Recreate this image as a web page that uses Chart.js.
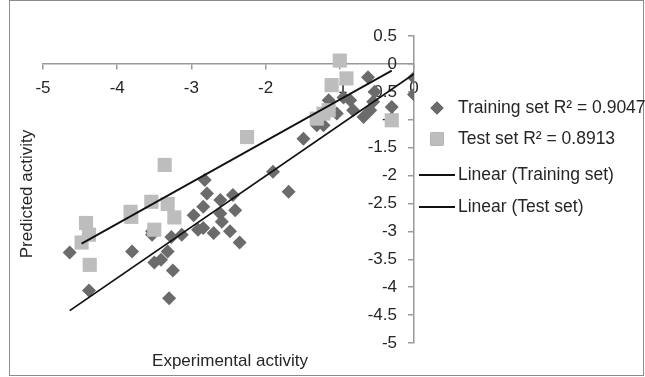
<!DOCTYPE html>
<html>
<head>
<meta charset="utf-8">
<script src="https://cdn.jsdelivr.net/npm/chart.js@4.4.1/dist/chart.umd.min.js"></script>
<style>
  html, body { margin: 0; padding: 0; background: #fff; }
  #wrap { width: 645px; height: 377px; position: relative; }
</style>
</head>
<body>
<div id="wrap"><canvas id="chart" width="645" height="377"></canvas></div>
<script>
// Training set: experimental vs predicted activity
const trainX = [-4.64, -4.38, -3.80, -3.30, -3.25, -3.50, -3.41, -3.32, -3.53, -3.27,
                -3.13, -2.97, -2.91, -2.84, -2.70, -2.59, -2.48, -2.35, -2.41, -2.61,
                -2.79, -2.61, -2.44, -1.69, -2.82, -1.90, -0.62, 0.00, 0.00, -0.30,
                -1.15, -0.86, -1.04, -0.82, -0.68, -0.59, -0.55, -1.31, -1.22, -1.49,
                -0.53, -0.95, -2.84, -3.53];
const trainY = [-3.38, -4.06, -3.36, -4.20, -3.70, -3.56, -3.51, -3.36, -3.06, -3.10,
                -3.06, -2.71, -2.97, -2.56, -3.03, -2.83, -3.00, -3.20, -2.62, -2.68,
                -2.32, -2.44, -2.35, -2.29, -2.08, -1.93, -0.24, -0.25, -0.55, -0.77,
                -0.65, -0.65, -0.89, -0.83, -0.95, -0.83, -0.68, -1.10, -1.10, -1.34,
                -0.50, -0.60, -2.94, -3.00];

// Test set
const testX = [-4.42, -4.38, -4.48, -4.37, -3.82, -3.81, -3.54, -3.32, -3.23, -3.50,
               -3.36, -2.25, -1.00, -0.91, -1.11, -1.15, -1.31, -0.30, -1.22];
const testY = [-2.85, -3.06, -3.20, -3.60, -2.65, -2.74, -2.47, -2.51, -2.75, -2.97,
               -1.81, -1.31, 0.06, -0.26, -0.38, -0.83, -0.98, -1.01, -0.89];

// Linear trend lines (end points)
const trainLineX = [-4.64, 0.00];
const trainLineY = [-4.42, -0.18];
const testLineX = [-4.48, -0.30];
const testLineY = [-3.22, -0.12];

const seriesLabels = ["Training set R\u00B2 = 0.9047", "Test set R\u00B2 = 0.8913",
                      "Linear (Training set)", "Linear (Test set)"];
const axisTitles = { x: "Experimental activity", y: "Predicted activity" };

const FONT = "'Liberation Sans', Arial, sans-serif";
const TEXT = "#262626";
const AXIS = "#9a9a9a";

function toPoints(xs, ys) {
  return xs.map((x, i) => ({ x: x, y: ys[i] }));
}

// legend, axis titles and outer frame
const decorations = {
  id: "decorations",
  afterDraw(chart) {
    const ctx = chart.ctx;
    ctx.save();
    ctx.strokeStyle = "#8c8c8c";
    ctx.lineWidth = 1;
    ctx.strokeRect(9.5, 0.5, 634, 375);

    ctx.fillStyle = TEXT;
    ctx.font = "17px " + FONT;
    ctx.textAlign = "center";
    ctx.textBaseline = "middle";
    ctx.fillText(axisTitles.x, 230, 361);
    ctx.translate(27, 194);
    ctx.rotate(-Math.PI / 2);
    ctx.fillText(axisTitles.y, 0, 0);
    ctx.restore();

    ctx.save();
    const rows = [108, 139, 175, 207];
    ctx.font = "17.5px " + FONT;
    ctx.textBaseline = "middle";
    ctx.textAlign = "left";
    chart.data.datasets.forEach((ds, i) => {
      const y = rows[i];
      if (ds.showLine) {
        ctx.strokeStyle = ds.borderColor;
        ctx.lineWidth = ds.borderWidth;
        ctx.beginPath();
        ctx.moveTo(419, y);
        ctx.lineTo(455, y);
        ctx.stroke();
      } else {
        Chart.helpers.drawPoint(ctx, {
          pointStyle: ds.pointStyle,
          radius: ds.pointStyle === "rect" ? 9 : 6.5,
          borderWidth: 0
        }, 437, y);
        ctx.fillStyle = ds.backgroundColor;
        ctx.fill();
      }
      ctx.fillStyle = TEXT;
      ctx.fillText(seriesLabels[i], 458, y);
    });
    ctx.restore();
  }
};

const ctx = document.getElementById("chart").getContext("2d");
new Chart(ctx, {
  type: "scatter",
  data: {
    datasets: [
      {
        label: seriesLabels[0],
        data: toPoints(trainX, trainY),
        pointStyle: "rectRot",
        pointRadius: 7,
        backgroundColor: "#6b6b6b",
        borderWidth: 0,
        order: 4
      },
      {
        label: seriesLabels[1],
        data: toPoints(testX, testY),
        pointStyle: "rect",
        pointRadius: 10,
        backgroundColor: "#bdbdbd",
        borderWidth: 0,
        order: 3
      },
      {
        label: seriesLabels[2],
        data: toPoints(trainLineX, trainLineY),
        showLine: true,
        pointRadius: 0,
        borderColor: "#111111",
        borderWidth: 1.8,
        order: 2
      },
      {
        label: seriesLabels[3],
        data: toPoints(testLineX, testLineY),
        showLine: true,
        pointRadius: 0,
        borderColor: "#111111",
        borderWidth: 1.8,
        order: 1
      }
    ]
  },
  options: {
    responsive: false,
    animation: false,
    layout: { padding: { left: 43, right: 231, top: 36, bottom: 34 } },
    scales: {
      x: {
        type: "linear",
        position: { y: 0 },
        min: -5,
        max: 0,
        ticks: { stepSize: 1, color: TEXT, font: { family: FONT, size: 17 }, padding: 9 },
        grid: { drawOnChartArea: false, tickLength: 5, color: AXIS, lineWidth: 1.5 },
        border: { color: AXIS, width: 1.5 }
      },
      y: {
        type: "linear",
        position: { x: 0 },
        min: -5,
        max: 0.5,
        ticks: {
          stepSize: 0.5,
          color: TEXT,
          font: { family: FONT, size: 17 },
          // keep the labels clear of the axis line
          callback: (v) => String(Math.round(v * 10) / 10) + "\u2003"
        },
        grid: { drawOnChartArea: false, tickLength: 5, color: AXIS, lineWidth: 1.5 },
        border: { color: AXIS, width: 1.5 }
      }
    },
    plugins: {
      legend: { display: false },
      tooltip: { enabled: false }
    }
  },
  plugins: [decorations]
});
</script>
</body>
</html>
